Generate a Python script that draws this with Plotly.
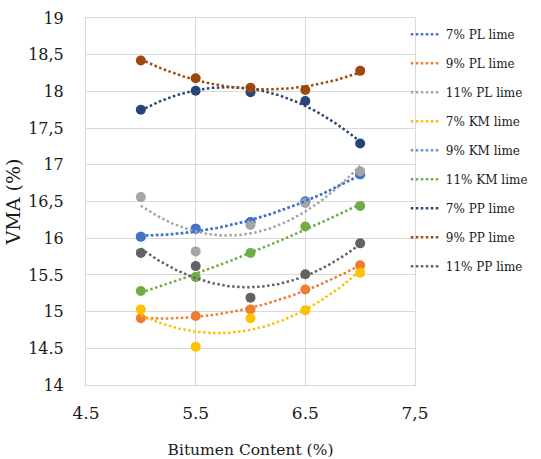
import numpy as np
import plotly.graph_objects as go

# Bitumen content (%) for every mix
bitumen = [5.0, 5.5, 6.0, 6.5, 7.0]

# VMA (%) per filler type / lime content
vma_7_pl = [16.02, 16.13, 16.22, 16.50, 16.87]
vma_9_pl = [14.91, 14.94, 15.03, 15.30, 15.63]
vma_11_pl = [16.56, 15.82, 16.18, 16.48, 16.91]
vma_7_km = [15.03, 14.52, 14.91, 15.02, 15.53]
vma_9_km = [16.02, 16.13, 16.22, 16.50, 16.87]
vma_11_km = [15.28, 15.47, 15.80, 16.16, 16.44]
vma_7_pp = [17.75, 18.01, 17.99, 17.87, 17.29]
vma_9_pp = [18.42, 18.18, 18.05, 18.02, 18.28]
vma_11_pp = [15.80, 15.62, 15.19, 15.51, 15.93]

names = ["7% PL lime", "9% PL lime", "11% PL lime",
         "7% KM lime", "9% KM lime", "11% KM lime",
         "7% PP lime", "9% PP lime", "11% PP lime"]
values = [vma_7_pl, vma_9_pl, vma_11_pl,
          vma_7_km, vma_9_km, vma_11_km,
          vma_7_pp, vma_9_pp, vma_11_pp]
colors = ["#4472C4", "#ED7D31", "#A5A5A5",
          "#FFC000", "#5B9BD5", "#70AD47",
          "#264478", "#9E480E", "#636363"]

y_ticks = [14, 14.5, 15, 15.5, 16, 16.5, 17, 17.5, 18, 18.5, 19]
y_tick_text = ["14", "14.5", "15", "15.5", "16", "16,5", "17", "17,5", "18", "18,5", "19"]
x_ticks = [4.5, 5.5, 6.5, 7.5]
x_tick_text = ["4.5", "5.5", "6.5", "7,5"]

# 9% KM coincides with 7% PL, so it is drawn first and sits underneath
draw_order = [4, 0, 1, 2, 3, 5, 6, 7, 8]

font_family = "DejaVu Serif"
fig = go.Figure()

# data points
for i in draw_order:
    fig.add_trace(go.Scatter(
        x=bitumen, y=values[i], mode="markers", name=names[i],
        marker=dict(color=colors[i], size=10),
        showlegend=False,
    ))

# second-order polynomial trendlines
xs = np.linspace(min(bitumen), max(bitumen), 120)
for i in draw_order:
    coef = np.polyfit(bitumen, values[i], 2)
    fig.add_trace(go.Scatter(
        x=xs, y=np.polyval(coef, xs), mode="lines", name=names[i],
        line=dict(color=colors[i], width=2.5, dash="2.5px,2.5px"),
        legendrank=i + 1, legendgroup=names[i],
        hoverinfo="skip",
    ))

# y-axis title placed as a rotated annotation left of the tick labels
fig.add_annotation(
    text="VMA (%)", textangle=-90, showarrow=False,
    xref="paper", yref="paper", x=-0.222, y=0.5,
    xanchor="center", yanchor="middle",
    font=dict(family=font_family, size=19, color="#1a1a1a"),
)

fig.update_layout(
    width=541, height=459,
    margin=dict(l=86, r=126, t=18, b=74, autoexpand=False),
    paper_bgcolor="white", plot_bgcolor="white",
    font=dict(family=font_family, color="#1a1a1a", size=16),
    legend=dict(
        x=0.972, xanchor="left", y=0.995, yanchor="top",
        font=dict(family=font_family, size=12, color="#1a1a1a"),
        bgcolor="rgba(0,0,0,0)", tracegroupgap=10,
        maxheight=440,
    ),
    xaxis=dict(
        range=[4.5, 7.5], tickvals=x_ticks, ticktext=x_tick_text,
        showgrid=True, gridcolor="#D9D9D9", gridwidth=1,
        showline=True, linecolor="#D9D9D9", linewidth=1, mirror=True,
        zeroline=False, ticks="", ticklabelstandoff=13,
        tickfont=dict(size=17),
        title=dict(text="Bitumen Content (%)", font=dict(size=15.5), standoff=22),
    ),
    yaxis=dict(
        range=[14, 19], tickvals=y_ticks, ticktext=y_tick_text,
        showgrid=True, gridcolor="#D9D9D9", gridwidth=1,
        showline=True, linecolor="#D9D9D9", linewidth=1, mirror=True,
        zeroline=False, ticks="", ticklabelstandoff=18,
        tickfont=dict(size=16),
    ),
)

fig.write_html("out.html")
